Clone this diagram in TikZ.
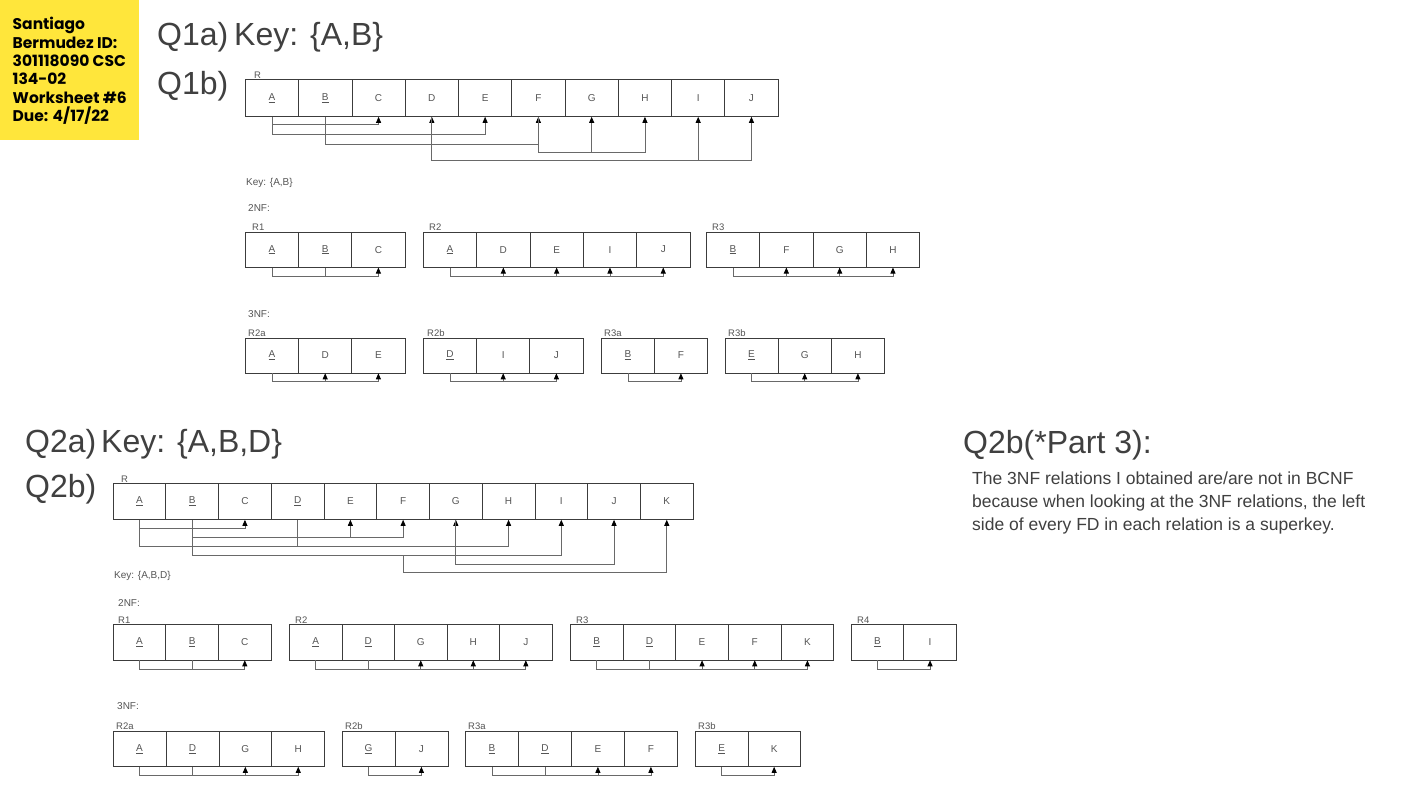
\documentclass[tikz,border=0pt]{standalone}
\usepackage{fontspec}
\setmainfont{Liberation Sans}
\newfontfamily\notefont{Poppins}
\usetikzlibrary{arrows.meta,calc}
\definecolor{noteyellow}{RGB}{255,230,59}
\definecolor{txt}{RGB}{64,64,64}
\definecolor{smalltxt}{RGB}{85,85,85}
\definecolor{boxc}{RGB}{60,60,60}
\definecolor{fdc}{RGB}{105,105,105}
\tikzset{
 cell/.style={draw=boxc, line width=0.8pt, inner sep=0pt, font=\fontsize{10}{12}\selectfont, text=smalltxt},
 lbl/.style={anchor=base west, inner sep=0pt, font=\fontsize{9.5}{11}\selectfont, text=smalltxt},
 note/.style={anchor=west, inner sep=0pt, font=\fontsize{10}{12}\selectfont, text=smalltxt},
 big/.style={anchor=base west, inner sep=0pt, font=\fontsize{32}{38}\selectfont, text=txt},
 para/.style={anchor=base west, inner sep=0pt, font=\fontsize{17.5}{23}\selectfont, text=txt},
 fdl/.style={draw=fdc, line width=0.8pt},
 fda/.style={fdl, -{Triangle[width=5pt,length=6pt,color=black]}},
}
\newcommand\relbox[6]{\foreach \attr [count=\i] in {#6}{\node[cell, minimum width=#4pt, minimum height=#5pt, anchor=north west] (#1-\i) at ({#2+(\i-1)*#4},#3) {\attr};}}
\newcommand\fdline[3]{\draw[fda] (#1.south) -- ++(0,#3) -| (#2.south);}
\newcommand\fdup[2]{\draw[fda] ($(#1.south)+(0,#2)$) -- (#1.south);}
\newcommand\fdstem[2]{\draw[fdl] (#1.south) -- ++(0,#2);}
\begin{document}
\begin{tikzpicture}[x=1pt,y=-1pt]
\useasboundingbox (0,0) rectangle (1422,800);
\fill[white] (0,0) rectangle (1422,800);
% sticky note
\fill[noteyellow] (0,0) rectangle (138.5,140);
\foreach \ln [count=\i] in {Santiago, Bermudez ID:, 301118090 CSC, 134-02, Worksheet \#6, Due: 4/17/22}{
  \node[anchor=base west, inner sep=0pt, font=\notefont\bfseries\fontsize{15.5}{18}\selectfont] (note-\i) at (12.5,{30+18.3*(\i-1)}) {\ln};}
% headings
\node[big] (q1a) at (157,46) {Q1a)};
\node[big] (q1akey) at (234,46) {Key: \{A,B\}};
\node[big] (q1b) at (157,95) {Q1b)};
\node[big] (q2a) at (25,452) {Q2a)};
\node[big] (q2akey) at (101,452) {Key: \{A,B,D\}};
\node[big] (q2b) at (25,497) {Q2b)};
\node[big] (q2bp3) at (963,453) {Q2b(*Part 3):};
\node[para] (par1) at (972,484) {The 3NF relations I obtained are/are not in BCNF};
\node[para] (par2) at (972,507) {because when looking at the 3NF relations, the left};
\node[para] (par3) at (972,530) {side of every FD in each relation is a superkey.};

% ---------- Q1b R ----------
\relbox{a}{245}{79.3}{53.27}{36.7}{\underline{A},\underline{B},C,D,E,F,G,H,I,J}
\node[lbl] (alab) at (254,78) {R};
\fdline{a-1}{a-3}{7.3}
\fdstem{a-2}{7.3}
\fdline{a-1}{a-5}{17.3}
\fdup{a-4}{17.3}
\fdline{a-2}{a-6}{27.3}
\fdline{a-6}{a-8}{35.7}
\fdup{a-7}{35.7}
\fdline{a-4}{a-10}{43.3}
\fdup{a-9}{43.3}

\node[note] (key1) at (246,183) {Key: \{A,B\}};
\node[note] (nf2a) at (248,208) {2NF:};
% Q1 2NF
\relbox{b}{245}{231.7}{53.2}{35}{\underline{A},\underline{B},C}
\node[lbl] (blab) at (252,230) {R1};
\fdline{b-1}{b-3}{9.3}
\fdstem{b-2}{9.3}
\relbox{c}{423}{231.7}{53.3}{35}{\underline{A},D,E,I,J}
\node[lbl] (clab) at (429,230) {R2};
\fdline{c-1}{c-5}{9.3}
\fdup{c-2}{9.3}
\fdup{c-3}{9.3}
\fdup{c-4}{9.3}
\relbox{d}{706}{231.7}{53.3}{35}{\underline{B},F,G,H}
\node[lbl] (dlab) at (712,230) {R3};
\fdline{d-1}{d-4}{9.3}
\fdup{d-2}{9.3}
\fdup{d-3}{9.3}
% Q1 3NF
\node[note] (nf3a) at (248,314) {3NF:};
\relbox{e}{245}{337.5}{53.2}{35}{\underline{A},D,E}
\node[lbl] (elab) at (248,336) {R2a};
\fdline{e-1}{e-3}{8.5}
\fdup{e-2}{8.5}
\relbox{f}{423}{337.5}{53.2}{35}{\underline{D},I,J}
\node[lbl] (flab) at (427,336) {R2b};
\fdline{f-1}{f-3}{8.5}
\fdup{f-2}{8.5}
\relbox{g}{601}{337.5}{53}{35}{\underline{B},F}
\node[lbl] (glab) at (604,336) {R3a};
\fdline{g-1}{g-2}{8.5}
\relbox{h}{724.5}{337.5}{53.2}{35}{\underline{E},G,H}
\node[lbl] (hlab) at (728,336) {R3b};
\fdline{h-1}{h-3}{8.5}
\fdup{h-2}{8.5}

% ---------- Q2b R ----------
\relbox{p}{112.7}{483.3}{52.73}{35.7}{\underline{A},\underline{B},C,\underline{D},E,F,G,H,I,J,K}
\node[lbl] (plab) at (121,482) {R};
\fdline{p-1}{p-3}{8.7}
\fdline{p-2}{p-6}{17.7}
\fdup{p-5}{17.7}
\fdline{p-1}{p-8}{27}
\fdstem{p-4}{27}
\fdup{p-7}{27}
\fdline{p-2}{p-9}{35.3}
\fdline{p-7}{p-10}{44.3}
\draw[fda] ($(p-6.south)+(0,35.3)$) -- ++(0,17.4) -| (p-11.south);

\node[note] (key2) at (114,576) {Key: \{A,B,D\}};
\node[note] (nf2b) at (118,603) {2NF:};
% Q2 2NF
\relbox{q}{112.7}{624.3}{52.67}{35.2}{\underline{A},\underline{B},C}
\node[lbl] (qlab) at (118,623) {R1};
\fdline{q-1}{q-3}{9.5}
\fdstem{q-2}{9.5}
\relbox{r}{289}{624.3}{52.54}{35.2}{\underline{A},\underline{D},G,H,J}
\node[lbl] (rlab) at (295,623) {R2};
\fdline{r-1}{r-5}{9.5}
\fdstem{r-2}{9.5}
\fdup{r-3}{9.5}
\fdup{r-4}{9.5}
\relbox{s}{570}{624.3}{52.67}{35.2}{\underline{B},\underline{D},E,F,K}
\node[lbl] (slab) at (576,623) {R3};
\fdline{s-1}{s-5}{9.5}
\fdstem{s-2}{9.5}
\fdup{s-3}{9.5}
\fdup{s-4}{9.5}
\relbox{t}{850.7}{624.3}{52.65}{35.2}{\underline{B},I}
\node[lbl] (tlab) at (857,623) {R4};
\fdline{t-1}{t-2}{9.5}
% Q2 3NF
\node[note] (nf3b) at (117,706) {3NF:};
\relbox{u}{112.7}{731}{52.9}{35}{\underline{A},\underline{D},G,H}
\node[lbl] (ulab) at (116,729) {R2a};
\fdline{u-1}{u-4}{8.5}
\fdstem{u-2}{8.5}
\fdup{u-3}{8.5}
\relbox{v}{341.5}{731}{53}{35}{\underline{G},J}
\node[lbl] (vlab) at (345,729) {R2b};
\fdline{v-1}{v-2}{8.5}
\relbox{w}{465}{731}{53}{35}{\underline{B},\underline{D},E,F}
\node[lbl] (wlab) at (468,729) {R3a};
\fdline{w-1}{w-4}{8.5}
\fdstem{w-2}{8.5}
\fdup{w-3}{8.5}
\relbox{x}{695}{731}{52.5}{35}{\underline{E},K}
\node[lbl] (xlab) at (698,729) {R3b};
\fdline{x-1}{x-2}{8.5}
\end{tikzpicture}
\end{document}
